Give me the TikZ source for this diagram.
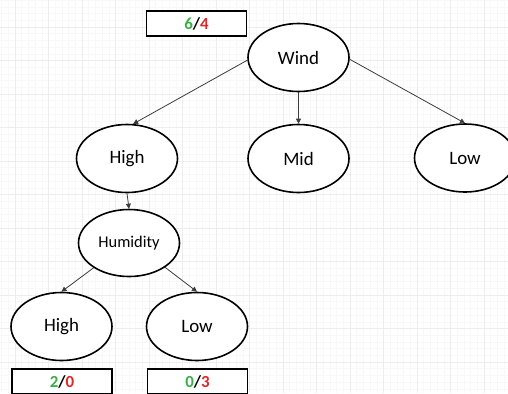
\documentclass[tikz,border=0pt]{standalone}
\usepackage{fontspec}
\setmainfont{Carlito}
\usetikzlibrary{arrows.meta,shapes.geometric}
\definecolor{yesgreen}{RGB}{60,175,70}
\definecolor{nored}{RGB}{225,40,40}
\definecolor{minorline}{RGB}{248,248,248}
\definecolor{majorline}{RGB}{237,237,237}
\definecolor{edgeline}{RGB}{60,60,60}
\begin{document}
\begin{tikzpicture}[x=1bp,y=-1bp,
  state/.style={draw=black, line width=1.6bp, ellipse, inner sep=0pt,
    minimum width=101bp, minimum height=68bp, fill=white,
    font=\fontsize{19}{21}\selectfont},
  tally/.style={draw=black, line width=1.5bp, rectangle, inner sep=0pt,
    minimum width=100bp, minimum height=25bp, fill=white,
    font=\fontsize{17}{19}\selectfont\bfseries},
  link/.style={draw=edgeline, line width=0.8bp,
    -{Triangle[length=5bp,width=5bp]}}]
\useasboundingbox (0,0) rectangle (508,393);
\clip (0,0) rectangle (508,393);
\fill[white] (0,0) rectangle (508,393);
% background grid paper
\foreach \i in {0,...,76} {
  \draw[minorline, line width=0.5bp] (\i*6.7+1.6,0) -- (\i*6.7+1.6,393);
}
\foreach \i in {0,...,59} {
  \draw[minorline, line width=0.5bp] (0,\i*6.7+0.2) -- (508,\i*6.7+0.2);
}
\foreach \i in {0,...,15} {
  \draw[majorline, line width=0.8bp] (\i*33.5+15,0) -- (\i*33.5+15,393);
}
\foreach \i in {0,...,11} {
  \draw[majorline, line width=0.8bp] (0,\i*33.5-6.5) -- (508,\i*33.5-6.5);
}

% tree nodes
\node[state] (wind) at (298.5,57.5) {Wind};
\node[state] (high) at (127,158.5) {High};
\node[state] (mid) at (298.5,158.5) {Mid};
\node[state] (low) at (465,158) {Low};
\node[state, minimum height=67bp, font=\fontsize{16.5}{19}\selectfont] (hum) at (129,243) {Humidity};
\node[state] (hhigh) at (61.5,326.5) {High};
\node[state] (hlow) at (197,326.5) {Low};

% class counts
\node[tally] (boxroot) at (196.5,23.5) {\textcolor{yesgreen}{6}/\textcolor{nored}{4}};
\node[tally] (boxhigh) at (62,381.5) {\textcolor{yesgreen}{2}/\textcolor{nored}{0}};
\node[tally] (boxlow) at (197.5,381.5) {\textcolor{yesgreen}{0}/\textcolor{nored}{3}};

% branches
\draw[link] (wind.183) -- (high.80);
\draw[link] (wind.south) -- (mid.north);
\draw[link] (wind.358) -- (low.north);
\draw[link] (high.south) -- (hum.north);
\draw[link] (hum.215) -- (hhigh.north);
\draw[link] (hum.326) -- (hlow.north);
\end{tikzpicture}
\end{document}
